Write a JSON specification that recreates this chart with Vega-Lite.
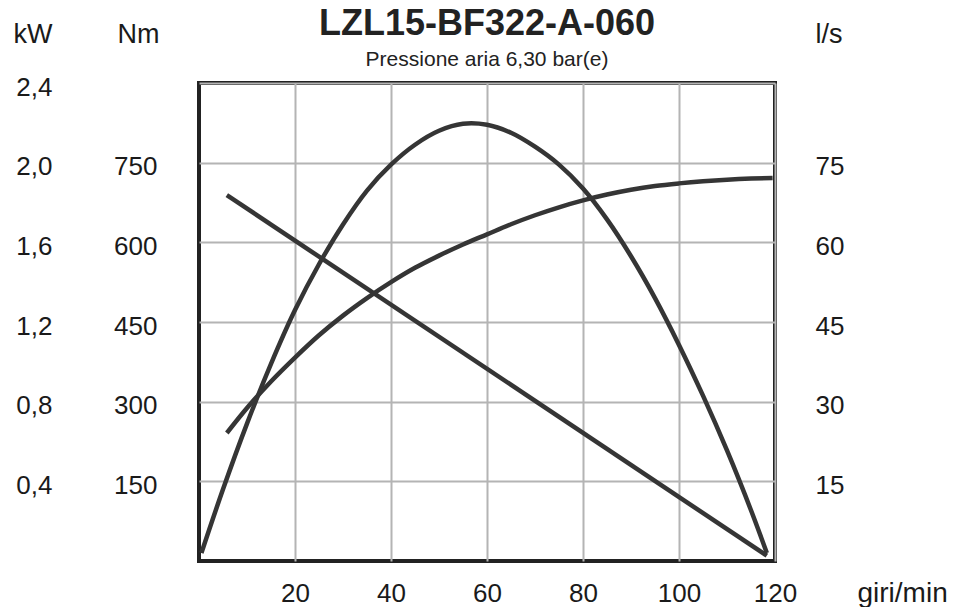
{
  "$schema": "https://vega.github.io/schema/vega-lite/v6.json",
  "autosize": "none",
  "padding": {"left": 199, "top": 83, "right": 188, "bottom": 46},
  "width": 576,
  "height": 478,
  "background": "white",
  "config": {
    "font": "Liberation Sans",
    "view": {"stroke": "#222222", "strokeWidth": 4},
    "axis": {
      "labelFont": "Liberation Sans",
      "titleFont": "Liberation Sans",
      "labelColor": "#1a1a1a",
      "titleColor": "#1a1a1a",
      "labelFontSize": 26,
      "titleFontSize": 27,
      "titleFontWeight": "normal",
      "ticks": false,
      "tickSize": 0,
      "domain": false,
      "gridColor": "#b4b4b4",
      "gridWidth": 2,
      "labelFlush": false,
      "labelOverlap": false
    }
  },
  "title": {
    "text": "LZL15-BF322-A-060",
    "subtitle": "Pressione aria 6,30 bar(e)",
    "anchor": "middle",
    "font": "Liberation Sans",
    "fontSize": 36,
    "fontWeight": "bold",
    "color": "#222222",
    "subtitleFont": "Liberation Sans",
    "subtitleFontSize": 21,
    "subtitleColor": "#222222",
    "subtitlePadding": 6,
    "offset": -51
  },
  "datasets": {
    "power": [
      {"rpm": 0.5, "kW": 0.04},
      {"rpm": 5, "kW": 0.36},
      {"rpm": 10, "kW": 0.69},
      {"rpm": 15, "kW": 0.99},
      {"rpm": 20, "kW": 1.26},
      {"rpm": 25, "kW": 1.49},
      {"rpm": 30, "kW": 1.69},
      {"rpm": 35, "kW": 1.86},
      {"rpm": 40, "kW": 1.99},
      {"rpm": 45, "kW": 2.09},
      {"rpm": 50, "kW": 2.16},
      {"rpm": 55, "kW": 2.195},
      {"rpm": 60, "kW": 2.19},
      {"rpm": 65, "kW": 2.15},
      {"rpm": 70, "kW": 2.08},
      {"rpm": 75, "kW": 1.99},
      {"rpm": 80, "kW": 1.87},
      {"rpm": 85, "kW": 1.715},
      {"rpm": 90, "kW": 1.53},
      {"rpm": 95, "kW": 1.32},
      {"rpm": 100, "kW": 1.085},
      {"rpm": 105, "kW": 0.83},
      {"rpm": 110, "kW": 0.555},
      {"rpm": 115, "kW": 0.255},
      {"rpm": 118.3, "kW": 0.04}
    ],
    "torque": [
      {"rpm": 5.8, "Nm": 689},
      {"rpm": 118.3, "Nm": 10}
    ],
    "air": [
      {"rpm": 5.8, "ls": 24.1},
      {"rpm": 10, "ls": 28.8},
      {"rpm": 15, "ls": 33.8},
      {"rpm": 20, "ls": 38.3},
      {"rpm": 25, "ls": 42.5},
      {"rpm": 30, "ls": 46.2},
      {"rpm": 35, "ls": 49.5},
      {"rpm": 40, "ls": 52.5},
      {"rpm": 45, "ls": 55.2},
      {"rpm": 50, "ls": 57.5},
      {"rpm": 55, "ls": 59.6},
      {"rpm": 60, "ls": 61.5},
      {"rpm": 65, "ls": 63.4},
      {"rpm": 70, "ls": 65.1},
      {"rpm": 75, "ls": 66.6},
      {"rpm": 80, "ls": 67.9},
      {"rpm": 85, "ls": 69.0},
      {"rpm": 90, "ls": 69.9},
      {"rpm": 95, "ls": 70.6},
      {"rpm": 100, "ls": 71.1},
      {"rpm": 105, "ls": 71.5},
      {"rpm": 110, "ls": 71.8},
      {"rpm": 115, "ls": 72.0},
      {"rpm": 119.5, "ls": 72.1}
    ]
  },
  "encoding": {
    "x": {
      "field": "rpm",
      "type": "quantitative",
      "scale": {"domain": [0, 120], "nice": false, "zero": true},
      "axis": {
        "values": [20, 40, 60, 80, 100, 120],
        "grid": true,
        "labelPadding": 19,
        "title": "giri/min",
        "titleAngle": 0,
        "titleAlign": "left",
        "titleBaseline": "alphabetic",
        "titleX": 658,
        "titleY": 40,
        "titleFontSize": 28
      }
    }
  },
  "layer": [
    {
      "data": {"name": "power"},
      "mark": {"type": "line", "color": "#353535", "strokeWidth": 4.5, "interpolate": "catmull-rom", "clip": true},
      "encoding": {
        "y": {
          "field": "kW",
          "type": "quantitative",
          "scale": {"domain": [0, 2.4], "nice": false, "zero": true},
          "axis": {
            "orient": "left",
            "values": [0.4, 0.8, 1.2, 1.6, 2.0, 2.4],
            "grid": true,
            "labelPadding": 147,
            "labelOffset": 4,
            "labelExpr": "replace(format(datum.value, '.1f'), '.', ',')",
            "title": "kW",
            "titleAngle": 0,
            "titleAlign": "left",
            "titleBaseline": "alphabetic",
            "titleX": -186,
            "titleY": -41
          }
        }
      }
    },
    {
      "data": {"name": "torque"},
      "mark": {"type": "line", "color": "#353535", "strokeWidth": 4.5, "clip": true},
      "encoding": {
        "y": {
          "field": "Nm",
          "type": "quantitative",
          "scale": {"domain": [0, 900], "nice": false, "zero": true},
          "axis": {
            "orient": "left",
            "values": [150, 300, 450, 600, 750],
            "grid": false,
            "labelPadding": 42,
            "labelOffset": 4,
            "title": "Nm",
            "titleAngle": 0,
            "titleAlign": "left",
            "titleBaseline": "alphabetic",
            "titleX": -82,
            "titleY": -41
          }
        }
      }
    },
    {
      "data": {"name": "air"},
      "mark": {"type": "line", "color": "#353535", "strokeWidth": 4.5, "interpolate": "monotone", "clip": true},
      "encoding": {
        "y": {
          "field": "ls",
          "type": "quantitative",
          "scale": {"domain": [0, 90], "nice": false, "zero": true},
          "axis": {
            "orient": "right",
            "values": [15, 30, 45, 60, 75],
            "grid": false,
            "labelPadding": 40,
            "labelOffset": 4,
            "title": "l/s",
            "titleAngle": 0,
            "titleAlign": "left",
            "titleBaseline": "alphabetic",
            "titleX": 40,
            "titleY": -41
          }
        }
      }
    }
  ],
  "resolve": {"scale": {"y": "independent"}, "axis": {"y": "independent"}}
}
